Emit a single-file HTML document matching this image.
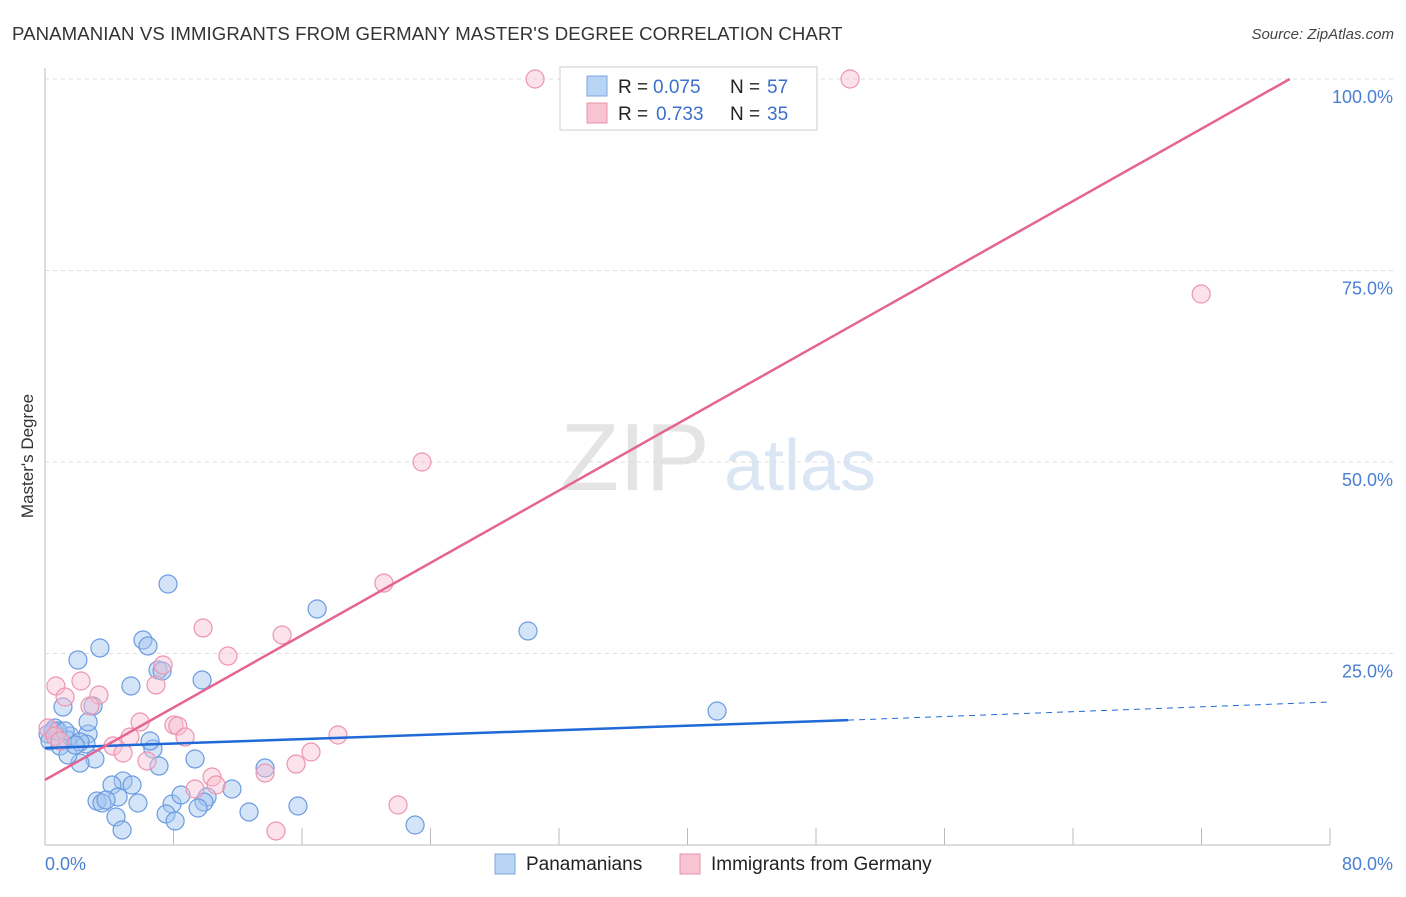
<!DOCTYPE html>
<html><head><meta charset="utf-8">
<style>
body{margin:0;background:#fff;font-family:"Liberation Sans",sans-serif;}
svg text{font-family:"Liberation Sans",sans-serif;}
</style></head>
<body>
<svg id="chart" width="1406" height="892" xmlns="http://www.w3.org/2000/svg">
<text x="12" y="40" font-size="18.6" letter-spacing="0.1" fill="#333">PANAMANIAN VS IMMIGRANTS FROM GERMANY MASTER'S DEGREE CORRELATION CHART</text>
<text x="1394" y="39" font-size="15" fill="#444" text-anchor="end" font-style="italic">Source: ZipAtlas.com</text>
<text transform="translate(33,456) rotate(-90)" font-size="17" fill="#333" text-anchor="middle">Master's Degree</text>
<g><text x="635" y="490" font-size="96" fill="#e4e4e4" font-family="Liberation Serif" text-anchor="middle">ZIP</text><text x="800" y="490" font-size="72" fill="#dbe6f4" text-anchor="middle">atlas</text></g>
<g id="grid"></g>
<g id="marks"></g>
<g>
<rect x="560" y="67" width="257" height="63" fill="#fff" stroke="#ccc"/>
<rect x="587" y="76" width="20" height="20" fill="#b8d4f4" stroke="#7aa7e0"/>
<rect x="587" y="103" width="20" height="20" fill="#f8c4d4" stroke="#e891ab"/>
<text x="618" y="93" font-size="19" fill="#222">R =</text>
<text x="653" y="93" font-size="19" fill="#3a70c9">0.075</text>
<text x="730" y="93" font-size="19" fill="#222">N =</text>
<text x="767" y="93" font-size="19" fill="#3a70c9">57</text>
<text x="618" y="120" font-size="19" fill="#222">R =</text>
<text x="656" y="120" font-size="19" fill="#3a70c9">0.733</text>
<text x="730" y="120" font-size="19" fill="#222">N =</text>
<text x="767" y="120" font-size="19" fill="#3a70c9">35</text>
</g>
<g>
<rect x="495" y="854" width="20" height="20" fill="#b8d4f4" stroke="#7aa7e0"/>
<text x="526" y="870" font-size="19" fill="#222">Panamanians</text>
<rect x="680" y="854" width="20" height="20" fill="#f8c4d4" stroke="#e891ab"/>
<text x="711" y="870" font-size="19" fill="#222">Immigrants from Germany</text>
</g>
</svg>
<script>
const xTicks=[0,8,16,24,32,40,48,56,64,72,80];
const yTicks=[25,50,75,100];
const yTickLabels=["25.0%","50.0%","75.0%","100.0%"];
const xEndLabels=["0.0%","80.0%"];
const blueX=[7.66,16.94,30.07,41.84,3.42,6.1,6.41,2.05,5.35,9.78,7.04,7.29,1.12,2.99,0.62,0.19,1.56,2.68,2.55,1.37,0.93,2.18,3.11,2.18,1.43,6.72,7.1,9.34,13.7,4.86,4.17,5.42,4.55,3.24,3.55,3.8,5.79,7.91,8.47,10.09,9.9,9.53,11.64,7.54,8.1,4.42,4.8,12.7,15.75,23.04,0.5,0.31,0.81,1.87,6.54,2.68,1.25];
const blueY=[34.07,30.81,27.94,17.49,25.72,26.76,25.98,24.15,20.76,21.54,22.85,22.72,18.02,18.15,15.27,14.49,14.23,14.49,13.19,13.71,12.92,13.45,11.23,10.7,11.75,12.53,10.31,11.23,10.05,8.36,7.83,7.83,6.27,5.74,5.48,5.87,5.48,5.35,6.53,6.27,5.61,4.83,7.31,4.05,3.13,3.66,1.96,4.31,5.09,2.61,14.88,13.58,14.88,13.05,13.58,16.06,14.88];
const pinkX=[30.51,50.12,71.98,23.47,21.1,9.84,14.76,11.39,7.35,6.91,0.68,2.24,1.25,3.36,2.8,5.92,8.03,8.27,8.72,5.29,4.23,4.86,6.35,10.4,10.65,9.34,13.7,15.63,16.56,18.24,21.98,14.38,0.19,0.62,0.93];
const pinkY=[100,100,71.93,50,34.2,28.33,27.42,24.67,23.5,20.89,20.76,21.41,19.32,19.58,18.15,16.06,15.67,15.54,14.1,14.1,12.92,12.01,10.97,8.88,7.83,7.31,9.4,10.57,12.14,14.36,5.22,1.83,15.27,14.23,13.58];
const blueTrend=[[0,12.66],[50,16.3],[80,18.67]];
const pinkTrend=[[0,8.5],[77.5,100]];
const X=v=>45+v*16.0625, Y=v=>845-v*7.66;
const NS="http://www.w3.org/2000/svg";
const grid=document.getElementById('grid'), marks=document.getElementById('marks');
function mk(tag,attrs,parent){const e=document.createElementNS(NS,tag);for(const k in attrs)e.setAttribute(k,attrs[k]);parent.appendChild(e);return e;}
let a=mk('line',{x1:45,y1:68,x2:45,y2:845,stroke:'#bbb'},grid);

let b=mk('line',{x1:45,y1:845,x2:1330,y2:845,stroke:'#bbb'},grid);

yTicks.forEach((t,i)=>{
 const l=mk('line',{x1:45,y1:Y(t),x2:1394,y2:Y(t),stroke:'#ddd','stroke-dasharray':'4,4'},grid);
 
 const tx=mk('text',{x:1393,y:Y(t)+24,'font-size':18,fill:'#4a7fd4','text-anchor':'end'},grid);
 tx.textContent=yTickLabels[i];
 
});
xTicks.forEach(t=>{
 const l=mk('line',{x1:X(t),y1:828,x2:X(t),y2:845,stroke:'#bbb'},grid);
 
});
let t0=mk('text',{x:45,y:870,'font-size':18,fill:'#4a7fd4'},grid);t0.textContent=xEndLabels[0];

let t1=mk('text',{x:1393,y:870,'font-size':18,fill:'#4a7fd4','text-anchor':'end'},grid);t1.textContent=xEndLabels[1];

blueX.forEach((v,i)=>{
 const c=mk('circle',{cx:X(v),cy:Y(blueY[i]),r:9,fill:'rgba(160,196,240,0.45)',stroke:'#6b9be0','stroke-width':1.2},marks);
 
});
pinkX.forEach((v,i)=>{
 const c=mk('circle',{cx:X(v),cy:Y(pinkY[i]),r:9,fill:'rgba(248,190,208,0.45)',stroke:'#ec95b0','stroke-width':1.2},marks);
 
});
let bl=mk('line',{x1:X(blueTrend[0][0]),y1:Y(blueTrend[0][1]),x2:X(blueTrend[1][0]),y2:Y(blueTrend[1][1]),stroke:'#1f6ad6','stroke-width':2.5},marks);

let bd=mk('line',{x1:X(blueTrend[1][0]),y1:Y(blueTrend[1][1]),x2:X(blueTrend[2][0]),y2:Y(blueTrend[2][1]),stroke:'#1f6ad6','stroke-width':1,'stroke-dasharray':'6,5'},marks);

let pl=mk('line',{x1:X(pinkTrend[0][0]),y1:Y(pinkTrend[0][1]),x2:X(pinkTrend[1][0]),y2:Y(pinkTrend[1][1]),stroke:'#e56490','stroke-width':2.5},marks);

</script>
</body></html>
